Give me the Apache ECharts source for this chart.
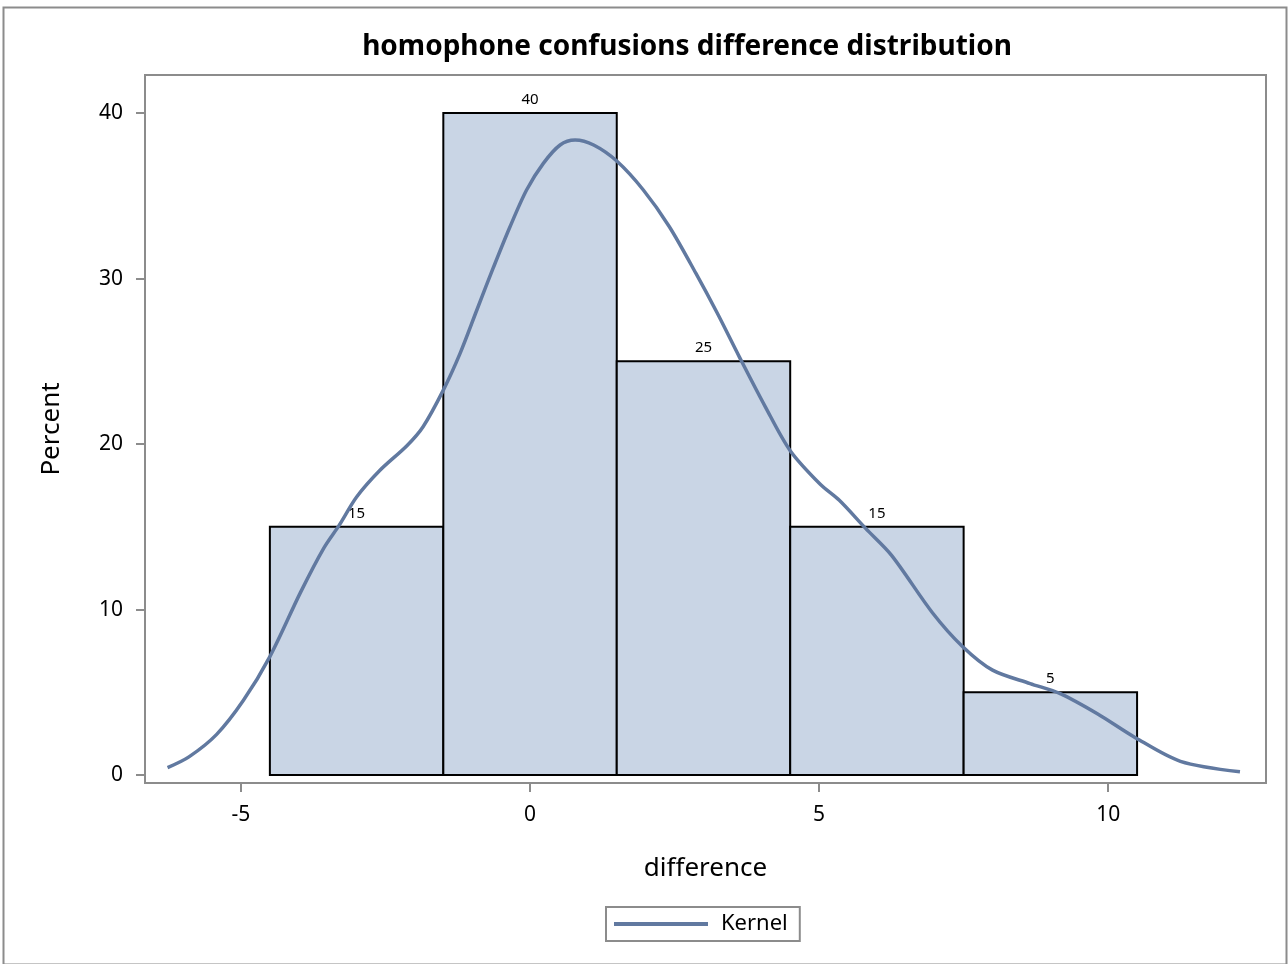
<!DOCTYPE html>
<html>
<head>
<meta charset="utf-8">
<script src="https://cdn.jsdelivr.net/npm/echarts@6/dist/echarts.min.js"></script>
<style>
  html, body { margin: 0; padding: 0; background: #fff; }
  #hist { width: 1288px; height: 964px; }
</style>
</head>
<body>
<div id="hist"></div>
<script>
// histogram bins (difference) and their percent
const binStart = [-4.5, -1.5, 1.5, 4.5, 7.5];
const binEnd = [-1.5, 1.5, 4.5, 7.5, 10.5];
const percent = [15, 40, 25, 15, 5];

// kernel density curve
const kernelX = [-6.27, -5.9, -5.42, -4.96, -4.5, -3.97, -3.57, -3.3, -3.0, -2.6, -2.13, -1.85, -1.5, -1.21,
  -0.92, -0.63, -0.35, -0.06, 0.23, 0.52, 0.78, 1.1, 1.5, 1.96, 2.41, 2.87, 3.24, 3.62, 4.07, 4.5,
  5.02, 5.35, 5.8, 6.25, 6.96, 7.48, 8.0, 8.65, 9.17, 9.82, 10.47, 11.25, 12.28];
const kernelY = [0.45, 1.1, 2.46, 4.5, 7.16, 11.04, 13.7, 15.1, 16.8, 18.4, 19.9, 21.05, 23.26, 25.48,
  28.1, 30.7, 33.1, 35.35, 36.96, 38.07, 38.37, 38.07, 37.1, 35.35, 33.13, 30.31, 27.9, 25.27, 22.25, 19.6,
  17.57, 16.6, 14.92, 13.29, 9.81, 7.77, 6.34, 5.53, 4.92, 3.69, 2.26, 0.83, 0.2];

const xTicks = [-5, 0, 5, 10];
const yTicks = [0, 10, 20, 30, 40];

const font = "'Noto Sans', sans-serif";
const frameColor = "#8c8c8c";

let myChart = echarts.init(document.getElementById("hist"));

let barData = binStart.map((s, i) => [s, binEnd[i], percent[i]]);
let kernelData = kernelX.map((x, i) => [x, kernelY[i]]);

let option = {
  animation: false,
  title: {
    text: "homophone confusions difference distribution",
    left: 682,
    top: 28,
    textAlign: "center",
    textStyle: { fontFamily: font, fontSize: 28, fontWeight: "bold", color: "#000" }
  },
  graphic: [
    {
      type: "rect",
      left: 1,
      top: 5,
      shape: { width: 1283, height: 957 },
      style: { fill: "none", stroke: frameColor, lineWidth: 2 },
      z: -1
    }
  ],
  legend: {
    data: ["Kernel"],
    left: 606,
    top: 907,
    icon: "rect",
    itemWidth: 94,
    itemHeight: 4,
    itemGap: 10,
    padding: [6, 12, 6, 8],
    borderColor: frameColor,
    borderWidth: 2,
    textStyle: { fontFamily: font, fontSize: 22, color: "#000", padding: [0, 0, 0, 8] }
  },
  grid: {
    left: 145,
    right: 22,
    top: 75,
    bottom: 181,
    show: true,
    borderColor: frameColor,
    borderWidth: 2,
    backgroundColor: "#fff"
  },
  xAxis: {
    type: "value",
    min: -6.66,
    max: 12.73,
    name: "difference",
    nameLocation: "middle",
    nameGap: 73,
    nameTextStyle: { fontFamily: font, fontSize: 26, color: "#000" },
    splitLine: { show: false },
    axisLine: { show: false, onZero: false },
    axisTick: {
      show: true,
      length: 9,
      customValues: xTicks,
      lineStyle: { color: frameColor, width: 2 }
    },
    axisLabel: {
      customValues: xTicks,
      margin: 22,
      fontFamily: font,
      fontSize: 21,
      color: "#000"
    }
  },
  yAxis: {
    type: "value",
    min: -0.48,
    max: 42.3,
    name: "Percent",
    nameLocation: "middle",
    nameGap: 80,
    nameTextStyle: { fontFamily: font, fontSize: 26, color: "#000" },
    splitLine: { show: false },
    axisLine: { show: false, onZero: false },
    axisTick: {
      show: true,
      length: 9,
      customValues: yTicks,
      lineStyle: { color: frameColor, width: 2 }
    },
    axisLabel: {
      customValues: yTicks,
      margin: 22,
      fontFamily: font,
      fontSize: 21,
      color: "#000"
    }
  },
  series: [
    {
      name: "bins",
      type: "custom",
      data: barData,
      encode: { x: [0, 1], y: 2 },
      z: 2,
      renderItem: function(params, api) {
        let p0 = api.coord([api.value(0), api.value(2)]);
        let p1 = api.coord([api.value(1), 0]);
        let midX = (p0[0] + p1[0]) / 2;
        return {
          type: "group",
          children: [
            {
              type: "rect",
              shape: { x: p0[0], y: p0[1], width: p1[0] - p0[0], height: p1[1] - p0[1] },
              style: { fill: "#c9d5e5", stroke: "#000", lineWidth: 2 }
            },
            {
              type: "text",
              style: {
                text: String(api.value(2)),
                x: midX,
                y: p0[1] - 6,
                align: "center",
                verticalAlign: "bottom",
                font: "15px " + font,
                fill: "#000"
              }
            }
          ]
        };
      }
    },
    {
      name: "Kernel",
      type: "line",
      data: kernelData,
      smooth: 0.3,
      showSymbol: false,
      z: 5,
      color: "#6179a0",
      lineStyle: { color: "#6179a0", width: 3.5 }
    }
  ]
};
myChart.setOption(option);
</script>
</body>
</html>
